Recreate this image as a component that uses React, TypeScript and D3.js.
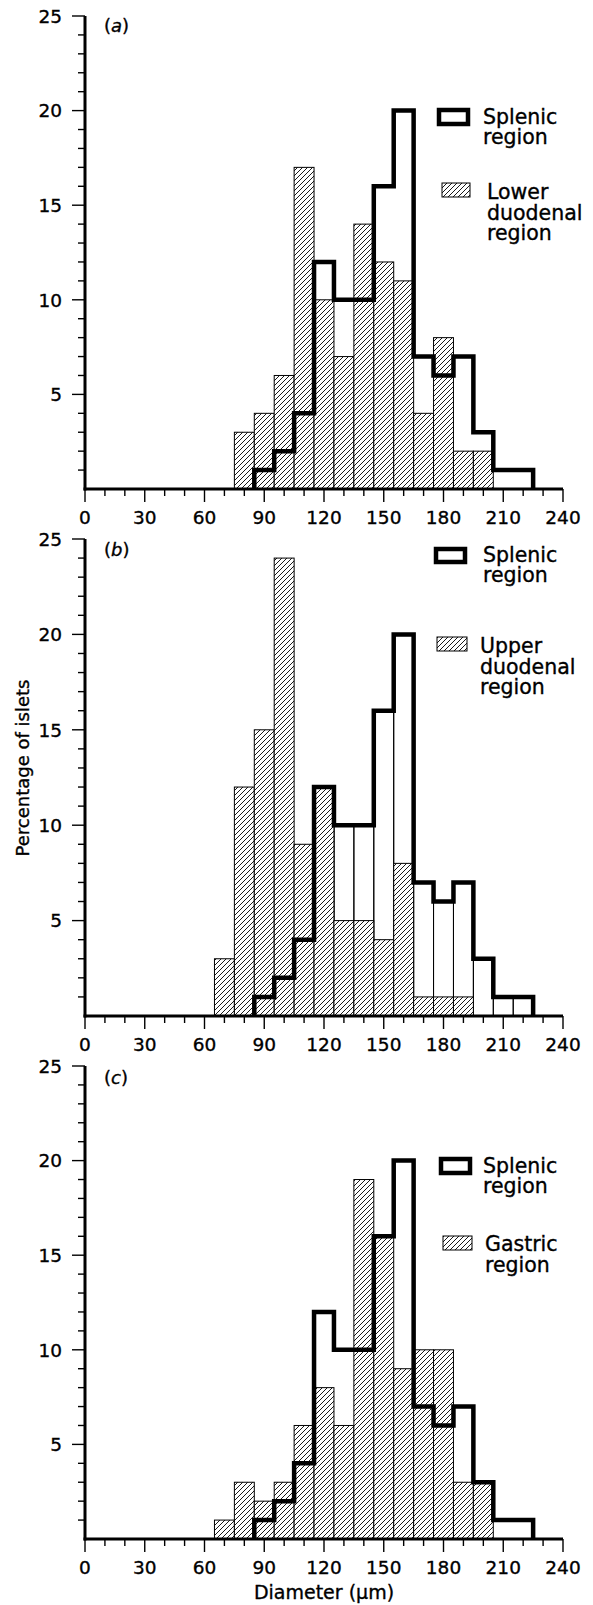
import React from 'react';
import * as d3 from 'd3';

// ---------- data ----------
const BIN_WIDTH = 10;
const xTickValues = d3.range(0, 241, 10);
const xTickLabels = [0, 30, 60, 90, 120, 150, 180, 210, 240];
const yTickLabels = [5, 10, 15, 20, 25];
const yMinorTicks = d3.range(1, 26, 1);

const splenicLow = [85, 95, 105, 115, 125, 135, 145, 155, 165, 175, 185, 195, 205, 215];
const splenicPct = [1, 2, 4, 12, 10, 10, 16, 20, 7, 6, 7, 3, 1, 1];

const lowerDuodenalLow = [75, 85, 95, 105, 115, 125, 135, 145, 155, 165, 175, 185, 195];
const lowerDuodenalPct = [3, 4, 6, 17, 10, 7, 14, 12, 11, 4, 8, 2, 2];

const upperDuodenalLow = [65, 75, 85, 95, 105, 115, 125, 135, 145, 155, 165, 175, 185];
const upperDuodenalPct = [3, 12, 15, 24, 9, 12, 5, 5, 4, 8, 1, 1, 1];

const gastricLow = [65, 75, 85, 95, 105, 115, 125, 135, 145, 155, 165, 175, 185, 195];
const gastricPct = [1, 3, 2, 3, 6, 8, 6, 19, 16, 9, 10, 10, 3, 3];

const splenicName = ['Splenic', 'region'];

// ---------- layout ----------
const W = 593;
const H = 1605;
const X0 = 85;
const X1 = 563;
const FONT = '"DejaVu Sans", "Liberation Sans", Arial, sans-serif';
const INK = 0.35;

type Panel = {
  tag: string;
  low: number[];
  pct: number[];
  name: string[];
  base: number;
  top: number;
  dividers: boolean;
  tagY: number;
  sBox: [number, number, number, number];
  sText: [number, number];
  hBox: [number, number, number, number];
  hText: [number, number];
};

const panels: Panel[] = [
  {
    tag: 'a', low: lowerDuodenalLow, pct: lowerDuodenalPct, name: ['Lower', 'duodenal', 'region'],
    base: 489, top: 16, dividers: false, tagY: 32,
    sBox: [439, 110, 29, 14], sText: [483, 124],
    hBox: [442, 183, 28, 14], hText: [487, 199],
  },
  {
    tag: 'b', low: upperDuodenalLow, pct: upperDuodenalPct, name: ['Upper', 'duodenal', 'region'],
    base: 1016, top: 539, dividers: true, tagY: 556,
    sBox: [436, 549, 29, 13], sText: [483, 562],
    hBox: [437, 637, 30, 14], hText: [480, 653],
  },
  {
    tag: 'c', low: gastricLow, pct: gastricPct, name: ['Gastric', 'region'],
    base: 1539, top: 1066, dividers: false, tagY: 1084,
    sBox: [441, 1159, 29, 14], sText: [483, 1173],
    hBox: [443, 1236, 29, 14], hText: [485, 1251],
  },
];

function PanelView({ p }: { p: Panel }) {
  const x = d3.scaleLinear().domain([0, 240]).range([X0, X1]);
  const y = d3.scaleLinear().domain([0, 25]).range([p.base, p.top]);

  const stepPts: [number, number][] = [[x(splenicLow[0]), y(0)]];
  splenicLow.forEach((lo, i) => {
    stepPts.push([x(lo), y(splenicPct[i])]);
    stepPts.push([x(lo + BIN_WIDTH), y(splenicPct[i])]);
  });
  stepPts.push([x(splenicLow[splenicLow.length - 1] + BIN_WIDTH), y(0)]);
  const stepPath = d3.line()(stepPts) || '';

  const txt = { fontFamily: FONT, stroke: '#000', strokeWidth: INK } as const;
  return (
    <g>
      {p.dividers && splenicLow.map((lo, i) => (
        <rect key={'sd' + i} x={x(lo)} y={y(splenicPct[i])} width={x(lo + BIN_WIDTH) - x(lo)}
          height={y(0) - y(splenicPct[i])} fill="none" stroke="#000" strokeWidth={1} />
      ))}
      {p.low.map((lo, i) => (
        <rect key={'h' + i} x={x(lo)} y={y(p.pct[i])} width={x(lo + BIN_WIDTH) - x(lo)}
          height={y(0) - y(p.pct[i])} fill="url(#hatch)" stroke="#000" strokeWidth={1} />
      ))}
      <path d={stepPath} fill="none" stroke="#000" strokeWidth={4.5} strokeLinejoin="miter" />

      <line x1={x(0)} x2={x(0)} y1={y(25)} y2={y(0) + 1.5} stroke="#000" strokeWidth={3} />
      {yMinorTicks.map((v) => (
        <line key={'ym' + v} x1={x(0) - (v % 5 === 0 ? 13 : 7)} x2={x(0)} y1={y(v)} y2={y(v)}
          stroke="#000" strokeWidth={1.4} />
      ))}
      {yTickLabels.map((v) => (
        <text key={'yl' + v} x={62} y={y(v) + 6.7} textAnchor="end" fontSize={18.5} {...txt}>{v}</text>
      ))}

      <line x1={x(0) - 1.5} x2={x(240)} y1={y(0)} y2={y(0)} stroke="#000" strokeWidth={3} />
      {xTickValues.map((v) => (
        <line key={'xt' + v} x1={x(v)} x2={x(v)} y1={y(0)} y2={y(0) + (v % 30 === 0 ? 13 : 7)}
          stroke="#000" strokeWidth={1.4} />
      ))}
      {xTickLabels.map((v) => (
        <text key={'xl' + v} x={x(v)} y={y(0) + 35} textAnchor="middle" fontSize={18.5} {...txt}>{v}</text>
      ))}

      <text x={104} y={p.tagY} fontSize={18} {...txt}>
        (<tspan fontStyle="italic">{p.tag}</tspan>)
      </text>

      <rect x={p.sBox[0]} y={p.sBox[1]} width={p.sBox[2]} height={p.sBox[3]} fill="#fff"
        stroke="#000" strokeWidth={4.5} />
      <text x={p.sText[0]} y={p.sText[1]} fontSize={20.5} {...txt}>
        {splenicName.map((t, i) => (
          <tspan key={'sn' + i} x={p.sText[0]} dy={i === 0 ? 0 : 19.5}>{t}</tspan>
        ))}
      </text>
      <rect x={p.hBox[0]} y={p.hBox[1]} width={p.hBox[2]} height={p.hBox[3]} fill="url(#hatch)"
        stroke="#000" strokeWidth={1} />
      <text x={p.hText[0]} y={p.hText[1]} fontSize={20.5} {...txt}>
        {p.name.map((t, i) => (
          <tspan key={'hn' + i} x={p.hText[0]} dy={i === 0 ? 0 : 20.5}>{t}</tspan>
        ))}
      </text>
    </g>
  );
}

export default function App() {
  return (
    <svg width={W} height={H} viewBox={`0 0 ${W} ${H}`}
      style={{ position: 'absolute', left: 0, top: 0, display: 'block', background: '#fff' }}>
      <defs>
        <pattern id="hatch" patternUnits="userSpaceOnUse" width={5} height={5}>
          <rect width={5} height={5} fill="#fff" />
          <path d="M-1,1 L1,-1 M0,5 L5,0 M4,6 L6,4" stroke="#000" strokeWidth={0.9} />
        </pattern>
      </defs>
      <rect x={0} y={0} width={W} height={H} fill="#fff" />
      {panels.map((p) => <PanelView key={p.tag} p={p} />)}
      <text transform="translate(29,768) rotate(-90)" textAnchor="middle" fontSize={18}
        fontFamily={FONT} stroke="#000" strokeWidth={INK}>Percentage of islets</text>
      <text x={324} y={1599} textAnchor="middle" fontSize={19} fontFamily={FONT}
        stroke="#000" strokeWidth={INK}>Diameter (µm)</text>
    </svg>
  );
}
